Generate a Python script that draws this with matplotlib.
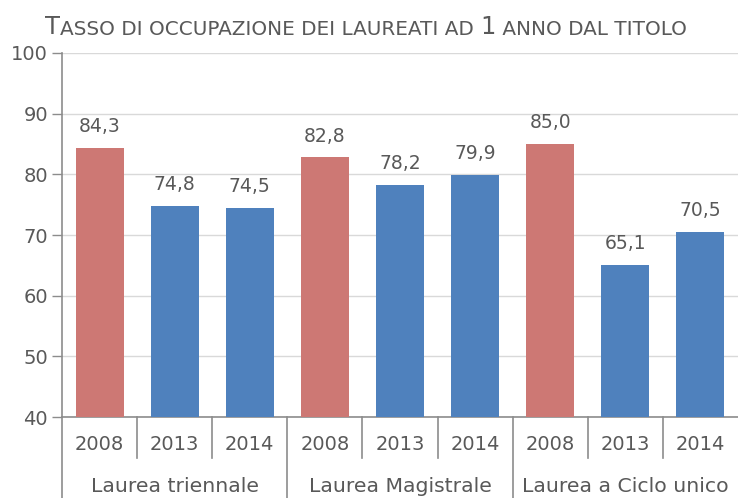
import matplotlib
matplotlib.use("Agg")
import matplotlib.pyplot as plt
import matplotlib.transforms as mtransforms

groups = ["Laurea triennale", "Laurea Magistrale", "Laurea a Ciclo unico"]
years = ["2008", "2013", "2014"]
values = [84.3, 74.8, 74.5, 82.8, 78.2, 79.9, 85.0, 65.1, 70.5]
yticks = [40, 50, 60, 70, 80, 90, 100]

RED = "#CD7874"
BLUE = "#4F81BD"
TXT = "#595959"
LINE = "#8C8C8C"
GRID = "#D9D9D9"
plt.rcParams['font.family'] = ['DejaVu Sans']

fig = plt.figure(figsize=(7.38, 4.98), dpi=100)
ax = fig.add_axes([62/738, 1-417/498, 676/738, 364/498])

n = len(values)
xs = list(range(n))
colors = [RED if years[i % 3] == "2008" else BLUE for i in range(n)]
bars = ax.bar(xs, [v - 40 for v in values], bottom=40, width=0.64, color=colors, zorder=3)
for x, v in zip(xs, values):
    ax.annotate(f"{v:.1f}".replace(".", ","), (x, v), xytext=(0, 8.5), textcoords="offset points",
                ha="center", va="bottom", fontsize=13.5, color=TXT)

ax.set_ylim(40, 100)
ax.set_xlim(-0.5, n - 0.5)
ax.set_yticks(yticks)
ax.set_yticklabels([str(t) for t in yticks], fontsize=14, color=TXT)
ax.yaxis.grid(True, color=GRID, linewidth=1, zorder=0)
ax.tick_params(axis='y', length=7, width=1, color=LINE, pad=3)
ax.set_xticks([])
for s in ["top", "right"]:
    ax.spines[s].set_visible(False)
ax.spines["left"].set_color(LINE)
ax.spines["bottom"].set_color(LINE)
ax.spines["left"].set_linewidth(1.2)
ax.spines["bottom"].set_linewidth(1.2)

trans = mtransforms.blended_transform_factory(ax.transData, ax.transAxes)
for i in range(1, n):
    if i % 3 != 0:
        ax.plot([i - 0.5, i - 0.5], [0, -0.113], transform=trans, color=LINE, lw=1.2, clip_on=False)
for i in range(0, n, 3):
    ax.plot([i - 0.5, i - 0.5], [0, -0.23], transform=trans, color=LINE, lw=1.2, clip_on=False)
for i in range(n):
    ax.text(i, -0.075, years[i % 3], transform=trans, ha="center", va="center", fontsize=14, color=TXT)
for g, name in enumerate(groups):
    ax.text(3 * g + 1, -0.19, name, transform=trans, ha="center", va="center", fontsize=14.7, color=TXT)

# title in small caps style
t1 = fig.text(45/738, 1-34/498, "T", fontsize=17.5, color=TXT, ha="left", va="baseline")
t2 = ax.annotate("ASSO DI OCCUPAZIONE DEI LAUREATI AD ", xy=(1, 0), xycoords=t1, fontsize=14.4,
                 color=TXT, ha="left", va="bottom")
t3 = ax.annotate("1", xy=(1, 0), xycoords=t2, fontsize=17.5, color=TXT, ha="left", va="bottom")
t4 = ax.annotate(" ANNO DAL TITOLO", xy=(1, 0), xycoords=t3, fontsize=14.4, color=TXT, ha="left", va="bottom")

fig.savefig("out.png", dpi=100)
